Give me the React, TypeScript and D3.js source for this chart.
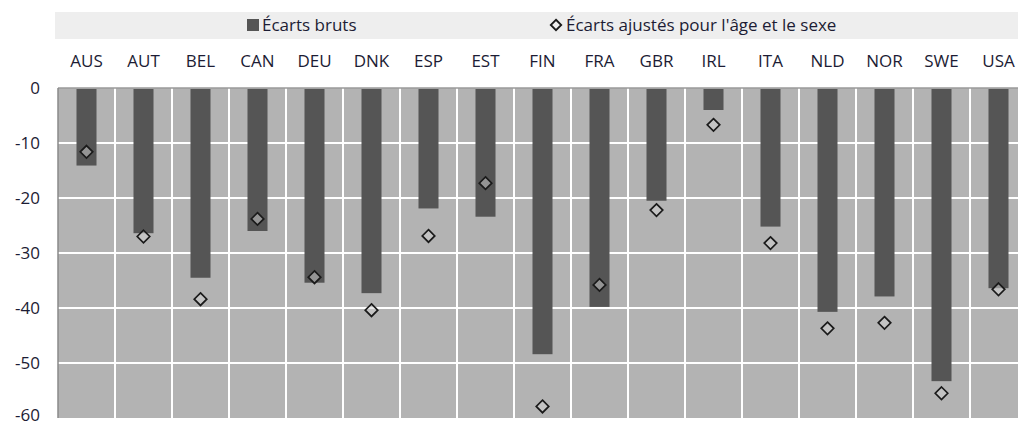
import React, { useEffect, useRef } from 'react';
import * as d3 from 'd3';

const countries = ['AUS', 'AUT', 'BEL', 'CAN', 'DEU', 'DNK', 'ESP', 'EST', 'FIN', 'FRA', 'GBR', 'IRL', 'ITA', 'NLD', 'NOR', 'SWE', 'USA'];
const rawGaps = [-14.1, -26.4, -34.5, -26.0, -35.4, -37.3, -21.9, -23.4, -48.4, -39.8, -20.5, -4.0, -25.2, -40.7, -37.9, -53.3, -36.4];
const adjustedGaps = [-11.6, -27.0, -38.4, -23.8, -34.4, -40.4, -26.9, -17.3, -57.9, -35.8, -22.2, -6.7, -28.2, -43.7, -42.7, -55.5, -36.6];
const yTicks = [0, -10, -20, -30, -40, -50, -60];
const legendLabels = ['Écarts bruts', "Écarts ajustés pour l'âge et le sexe"];

const W = 1018;
const H = 426;
const FONT = '"Open Sans", sans-serif';
const FS = 17;
const TEXT = '#1c1c34';

export default function App() {
  const svgRef = useRef<SVGSVGElement | null>(null);

  useEffect(() => {
    const svg = d3.select(svgRef.current);
    svg.selectAll('*').remove();

    const left = 58;
    const top = 88;
    const bottom = 418;
    const right = left + countries.length * 57;

    const x = d3.scaleBand<string>().domain(countries).range([left, right]).padding(0);
    const y = d3.scaleLinear().domain([-60, 0]).range([bottom, top]);
    const barW = 20;

    // legend band
    svg.append('rect').attr('x', 55).attr('y', 12).attr('width', W - 55).attr('height', 27).attr('fill', '#eeeeee');
    svg.append('rect').attr('x', 247).attr('y', 19).attr('width', 12).attr('height', 12).attr('fill', '#555555');
    svg.append('text').attr('x', 262).attr('y', 31).attr('font-family', FONT).attr('font-size', FS)
      .attr('fill', TEXT).text(legendLabels[0]);
    svg.append('path').attr('d', d3.symbol(d3.symbolDiamond2, 70)())
      .attr('transform', 'translate(556,25)').attr('fill', 'none').attr('stroke', '#1a1a1a').attr('stroke-width', 1.8);
    svg.append('text').attr('x', 566).attr('y', 31).attr('font-family', FONT).attr('font-size', FS)
      .attr('fill', TEXT).text(legendLabels[1]);

    // plot background
    svg.append('rect').attr('x', left).attr('y', top).attr('width', right - left).attr('height', bottom - top).attr('fill', '#b3b3b3');

    // horizontal gridlines
    svg.append('g').selectAll('line').data(yTicks.filter(t => t !== 0 && t !== -60)).join('line')
      .attr('x1', left).attr('x2', right)
      .attr('y1', d => y(d)).attr('y2', d => y(d))
      .attr('stroke', '#ffffff').attr('stroke-width', 2);

    // vertical gridlines at category boundaries
    svg.append('g').selectAll('line').data(countries.slice(1)).join('line')
      .attr('x1', d => x(d)!).attr('x2', d => x(d)!)
      .attr('y1', top).attr('y2', bottom)
      .attr('stroke', '#ffffff').attr('stroke-width', 2);

    // top and left edges
    svg.append('line').attr('x1', left).attr('x2', right).attr('y1', top).attr('y2', top)
      .attr('stroke', '#9a9a9a').attr('stroke-width', 1.5);
    svg.append('line').attr('x1', left).attr('x2', left).attr('y1', top).attr('y2', bottom)
      .attr('stroke', '#8a8a8a').attr('stroke-width', 1.5);

    // bars
    svg.append('g').selectAll('rect').data(countries).join('rect')
      .attr('x', d => x(d)! + x.bandwidth() / 2 - barW / 2)
      .attr('y', y(0) + 1)
      .attr('width', barW)
      .attr('height', (d, i) => y(rawGaps[i]) - y(0) - 1)
      .attr('fill', '#555555');

    // diamonds
    svg.append('g').selectAll('path').data(countries).join('path')
      .attr('d', d3.symbol(d3.symbolDiamond2, 100)())
      .attr('transform', (d, i) => `translate(${x(d)! + x.bandwidth() / 2},${y(adjustedGaps[i])})`)
      .attr('fill', '#d4d4d4').attr('fill-opacity', 0.5)
      .attr('stroke', '#1a1a1a').attr('stroke-width', 1.7);

    // category labels
    svg.append('g').selectAll('text').data(countries).join('text')
      .attr('x', d => x(d)! + x.bandwidth() / 2)
      .attr('y', 67)
      .attr('text-anchor', 'middle')
      .attr('font-family', FONT).attr('font-size', FS).attr('fill', TEXT)
      .text(d => d);

    // y tick labels
    svg.append('g').selectAll('text').data(yTicks).join('text')
      .attr('x', 40)
      .attr('y', d => Math.min(y(d) + 6, H - 5))
      .attr('text-anchor', 'end')
      .attr('font-family', FONT).attr('font-size', FS).attr('fill', TEXT)
      .text(d => d);
  }, []);

  return (
    <svg ref={svgRef} width={W} height={H}
      style={{ position: 'absolute', left: 0, top: 0, background: '#ffffff' }} />
  );
}
